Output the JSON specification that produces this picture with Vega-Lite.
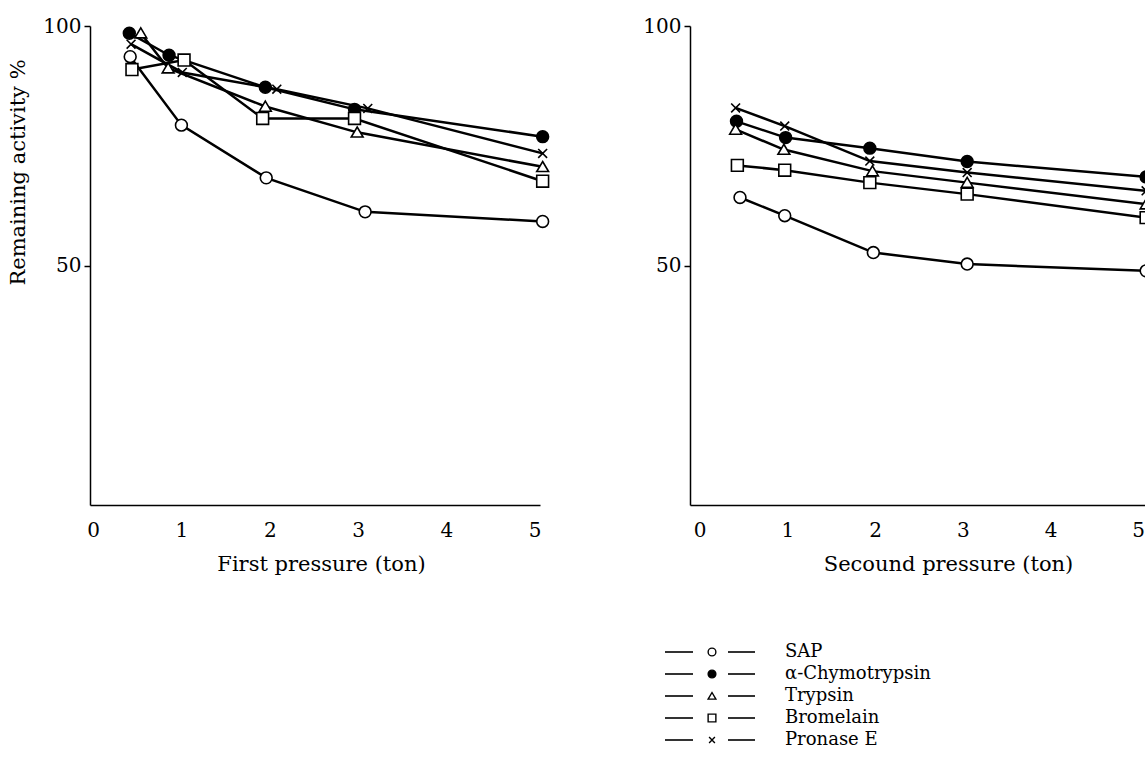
{
  "$schema": "https://vega.github.io/schema/vega-lite/v6.json",
  "padding": {"left": 7, "top": 16, "right": 0, "bottom": 0},
  "background": "white",
  "config": {
    "font": "DejaVu Serif",
    "view": {"stroke": null},
    "axis": {
      "domainColor": "black", "domainWidth": 1.5,
      "tickColor": "black", "tickWidth": 1.5,
      "labelColor": "black", "titleColor": "black",
      "labelFont": "DejaVu Serif", "titleFont": "DejaVu Serif",
      "labelFontSize": 20, "titleFontSize": 21, "titleFontWeight": "normal",
      "grid": false
    }
  },
  "datasets": {
    "points": [
      {"panel": "first", "series": "SAP", "x": 0.42, "y": 93.6},
      {"panel": "first", "series": "SAP", "x": 1.0, "y": 79.3},
      {"panel": "first", "series": "SAP", "x": 1.96, "y": 68.3},
      {"panel": "first", "series": "SAP", "x": 3.08, "y": 61.2},
      {"panel": "first", "series": "SAP", "x": 5.09, "y": 59.2},
      {"panel": "first", "series": "α-Chymotrypsin", "x": 0.41, "y": 98.5},
      {"panel": "first", "series": "α-Chymotrypsin", "x": 0.86, "y": 93.9},
      {"panel": "first", "series": "α-Chymotrypsin", "x": 1.95, "y": 87.2},
      {"panel": "first", "series": "α-Chymotrypsin", "x": 2.96, "y": 82.6},
      {"panel": "first", "series": "α-Chymotrypsin", "x": 5.09, "y": 76.9},
      {"panel": "first", "series": "Trypsin", "x": 0.54, "y": 98.5},
      {"panel": "first", "series": "Trypsin", "x": 0.85, "y": 91.2},
      {"panel": "first", "series": "Trypsin", "x": 1.95, "y": 83.2},
      {"panel": "first", "series": "Trypsin", "x": 2.99, "y": 77.8},
      {"panel": "first", "series": "Trypsin", "x": 5.09, "y": 70.6},
      {"panel": "first", "series": "Bromelain", "x": 0.44, "y": 90.9},
      {"panel": "first", "series": "Bromelain", "x": 1.03, "y": 92.9},
      {"panel": "first", "series": "Bromelain", "x": 1.92, "y": 80.7},
      {"panel": "first", "series": "Bromelain", "x": 2.96, "y": 80.7},
      {"panel": "first", "series": "Bromelain", "x": 5.09, "y": 67.6},
      {"panel": "first", "series": "Pronase E", "x": 0.43, "y": 96.2},
      {"panel": "first", "series": "Pronase E", "x": 1.01, "y": 90.3},
      {"panel": "first", "series": "Pronase E", "x": 2.08, "y": 86.8},
      {"panel": "first", "series": "Pronase E", "x": 3.11, "y": 82.8},
      {"panel": "first", "series": "Pronase E", "x": 5.09, "y": 73.4},
      {"panel": "second", "series": "SAP", "x": 0.46, "y": 64.2},
      {"panel": "second", "series": "SAP", "x": 0.97, "y": 60.4},
      {"panel": "second", "series": "SAP", "x": 1.98, "y": 52.7},
      {"panel": "second", "series": "SAP", "x": 3.05, "y": 50.3},
      {"panel": "second", "series": "SAP", "x": 5.09, "y": 48.9},
      {"panel": "second", "series": "α-Chymotrypsin", "x": 0.42, "y": 80.1},
      {"panel": "second", "series": "α-Chymotrypsin", "x": 0.98, "y": 76.7},
      {"panel": "second", "series": "α-Chymotrypsin", "x": 1.94, "y": 74.5},
      {"panel": "second", "series": "α-Chymotrypsin", "x": 3.05, "y": 71.7},
      {"panel": "second", "series": "α-Chymotrypsin", "x": 5.09, "y": 68.5},
      {"panel": "second", "series": "Trypsin", "x": 0.41, "y": 78.4},
      {"panel": "second", "series": "Trypsin", "x": 0.96, "y": 74.2},
      {"panel": "second", "series": "Trypsin", "x": 1.97, "y": 69.7},
      {"panel": "second", "series": "Trypsin", "x": 3.05, "y": 67.3},
      {"panel": "second", "series": "Trypsin", "x": 5.09, "y": 62.8},
      {"panel": "second", "series": "Bromelain", "x": 0.43, "y": 70.9},
      {"panel": "second", "series": "Bromelain", "x": 0.97, "y": 69.9},
      {"panel": "second", "series": "Bromelain", "x": 1.94, "y": 67.3},
      {"panel": "second", "series": "Bromelain", "x": 3.05, "y": 64.9},
      {"panel": "second", "series": "Bromelain", "x": 5.09, "y": 60.0},
      {"panel": "second", "series": "Pronase E", "x": 0.41, "y": 82.9},
      {"panel": "second", "series": "Pronase E", "x": 0.97, "y": 79.1},
      {"panel": "second", "series": "Pronase E", "x": 1.94, "y": 71.8},
      {"panel": "second", "series": "Pronase E", "x": 3.05, "y": 69.4},
      {"panel": "second", "series": "Pronase E", "x": 5.09, "y": 65.6}
    ],
    "legend": [
      {"series": "SAP"},
      {"series": "α-Chymotrypsin"},
      {"series": "Trypsin"},
      {"series": "Bromelain"},
      {"series": "Pronase E"}
    ]
  },
  "spacing": 67,
  "resolve": {"scale": {"x": "independent", "y": "independent"}},
  "vconcat": [
    {
      "spacing": 90,
      "resolve": {"scale": {"x": "independent", "y": "independent"}},
      "hconcat": [
        {
          "width": 450,
          "height": 479,
          "data": {"name": "points"},
          "transform": [{"filter": "datum.panel === 'first'"}],
          "encoding": {
            "x": {
              "field": "x", "type": "quantitative",
              "scale": {"domain": [-0.035, 5.06], "nice": false, "zero": false},
              "axis": {"values": [0, 1, 2, 3, 4, 5], "tickSize": 0, "labelPadding": 15, "title": "First pressure (ton)", "titlePadding": 13, "titleX": 231}
            },
            "y": {
              "field": "y", "type": "quantitative",
              "scale": {"domain": [0, 100], "nice": false, "zero": false},
              "axis": {"values": [50, 100], "tickSize": 6, "labelPadding": 3, "title": "Remaining activity %", "titleAngle": -90, "titleX": -72, "titleY": 146, "titleAlign": "center", "titleBaseline": "middle"}
            }
          },
          "layer": [
            {
              "mark": {"type": "line", "color": "black", "strokeWidth": 2.5},
              "encoding": {"detail": {"field": "series", "type": "nominal"}}
            },
            {
              "mark": {"type": "point", "stroke": "black", "strokeWidth": 1.6, "opacity": 1, "size": 140},
              "encoding": {
                "shape": {"field": "series", "type": "nominal", "scale": {"domain": ["SAP", "α-Chymotrypsin", "Trypsin", "Bromelain", "Pronase E"], "range": ["circle", "circle", "M0,-0.9L1,0.8L-1,0.8Z", "square", "M-0.75,-0.75L0.75,0.75M-0.75,0.75L0.75,-0.75"]}, "legend": null},
                "fill": {"field": "series", "type": "nominal", "scale": {"domain": ["SAP", "α-Chymotrypsin", "Trypsin", "Bromelain", "Pronase E"], "range": ["white", "black", "white", "white", "white"]}, "legend": null}
              }
            }
          ]
        },
        {
          "width": 457,
          "height": 479,
          "data": {"name": "points"},
          "transform": [{"filter": "datum.panel === 'second'"}],
          "encoding": {
            "x": {
              "field": "x", "type": "quantitative",
              "scale": {"domain": [-0.11, 5.1], "nice": false, "zero": false},
              "axis": {"values": [0, 1, 2, 3, 4, 5], "tickSize": 0, "labelPadding": 15, "title": "Secound pressure (ton)", "titlePadding": 13, "titleX": 258}
            },
            "y": {
              "field": "y", "type": "quantitative",
              "scale": {"domain": [0, 100], "nice": false, "zero": false},
              "axis": {"values": [50, 100], "tickSize": 6, "labelPadding": 3, "title": null}
            }
          },
          "layer": [
            {
              "mark": {"type": "line", "color": "black", "strokeWidth": 2.5, "clip": true},
              "encoding": {"detail": {"field": "series", "type": "nominal"}}
            },
            {
              "mark": {"type": "point", "stroke": "black", "strokeWidth": 1.6, "opacity": 1, "size": 140, "clip": true},
              "encoding": {
                "shape": {"field": "series", "type": "nominal", "scale": {"domain": ["SAP", "α-Chymotrypsin", "Trypsin", "Bromelain", "Pronase E"], "range": ["circle", "circle", "M0,-0.9L1,0.8L-1,0.8Z", "square", "M-0.75,-0.75L0.75,0.75M-0.75,0.75L0.75,-0.75"]}, "legend": null},
                "fill": {"field": "series", "type": "nominal", "scale": {"domain": ["SAP", "α-Chymotrypsin", "Trypsin", "Bromelain", "Pronase E"], "range": ["white", "black", "white", "white", "white"]}, "legend": null}
              }
            }
          ]
        }
      ]
    },
    {
      "width": 1000,
      "height": 110,
      "data": {"name": "legend"},
      "encoding": {
        "y": {"field": "series", "type": "nominal", "sort": ["SAP", "α-Chymotrypsin", "Trypsin", "Bromelain", "Pronase E"], "scale": {"type": "point", "padding": 0.5}, "axis": null}
      },
      "layer": [
        {
          "mark": {"type": "rule", "color": "black", "strokeWidth": 1.6},
          "encoding": {"x": {"datum": 575, "type": "quantitative", "scale": {"domain": [0, 1000], "nice": false}, "axis": null}, "x2": {"datum": 603}}
        },
        {
          "mark": {"type": "rule", "color": "black", "strokeWidth": 1.6},
          "encoding": {"x": {"datum": 638, "type": "quantitative", "scale": {"domain": [0, 1000], "nice": false}, "axis": null}, "x2": {"datum": 665}}
        },
        {
          "mark": {"type": "point", "stroke": "black", "strokeWidth": 1.4, "opacity": 1, "size": 60},
          "encoding": {
            "x": {"datum": 622, "type": "quantitative", "scale": {"domain": [0, 1000], "nice": false}, "axis": null},
            "shape": {"field": "series", "type": "nominal", "scale": {"domain": ["SAP", "α-Chymotrypsin", "Trypsin", "Bromelain", "Pronase E"], "range": ["circle", "circle", "M0,-0.9L1,0.8L-1,0.8Z", "square", "M-0.75,-0.75L0.75,0.75M-0.75,0.75L0.75,-0.75"]}, "legend": null},
            "fill": {"field": "series", "type": "nominal", "scale": {"domain": ["SAP", "α-Chymotrypsin", "Trypsin", "Bromelain", "Pronase E"], "range": ["white", "black", "white", "white", "white"]}, "legend": null}
          }
        },
        {
          "mark": {"type": "text", "align": "left", "baseline": "middle", "fontSize": 18, "font": "DejaVu Serif", "color": "black"},
          "encoding": {
            "x": {"datum": 695, "type": "quantitative", "scale": {"domain": [0, 1000], "nice": false}, "axis": null},
            "text": {"field": "series", "type": "nominal"}
          }
        }
      ]
    }
  ]
}
